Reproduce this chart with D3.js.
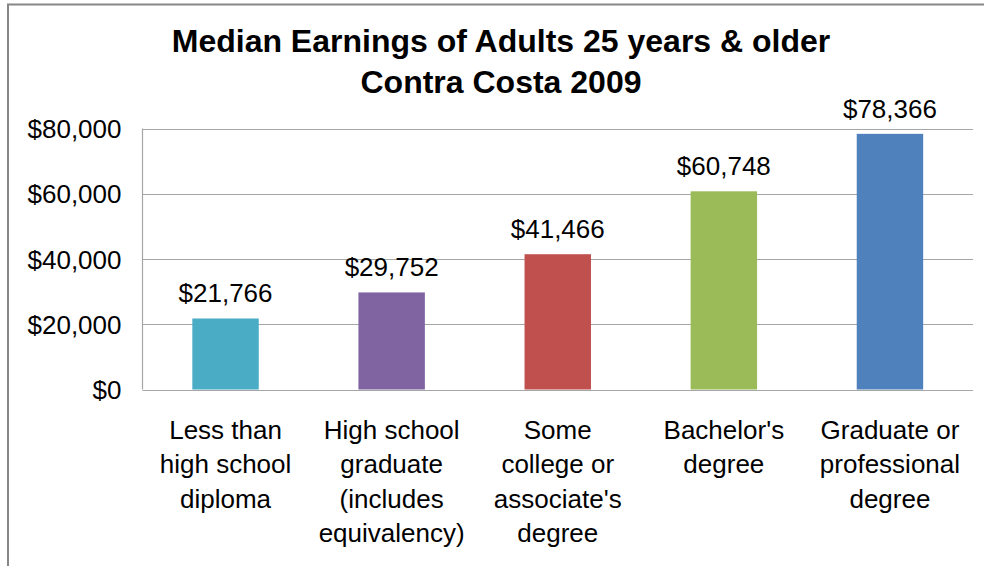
<!DOCTYPE html>
<html>
<head>
<meta charset="utf-8">
<script src="https://cdn.jsdelivr.net/npm/d3@7/dist/d3.min.js"></script>
<style>
  html, body { margin: 0; padding: 0; background: #fff; }
  svg { display: block; }
  text { font-family: "Liberation Sans", Arial, sans-serif; fill: #000; }
</style>
</head>
<body>
<svg id="chart" width="984" height="566"></svg>
<script>
// Median earnings by educational attainment, Contra Costa County, 2009
const titleLines = ["Median Earnings of Adults 25 years & older", "Contra Costa 2009"];
const categories = [
  ["Less than", "high school", "diploma"],
  ["High school", "graduate", "(includes", "equivalency)"],
  ["Some", "college or", "associate's", "degree"],
  ["Bachelor's", "degree"],
  ["Graduate or", "professional", "degree"]
];
const earnings = [21766, 29752, 41466, 60748, 78366];
const barColors = ["#4BACC6", "#8064A2", "#C0504D", "#9BBB59", "#4F81BD"];
const yTicks = [0, 20000, 40000, 60000, 80000];

const svg = d3.select("#chart");
const W = 984, H = 566;
const plot = { left: 142.5, right: 973, top: 128.5, bottom: 389.5 };
const labelSize = 26;

// Outer frame (top and left edges visible)
svg.append("rect")
  .attr("x", 8).attr("y", 4.5)
  .attr("width", W).attr("height", H)
  .attr("fill", "none")
  .attr("stroke", "#868686")
  .attr("stroke-width", 2);

const x = d3.scaleBand()
  .domain(d3.range(categories.length))
  .range([plot.left, plot.right])
  .paddingInner(0.6)
  .paddingOuter(0.3);

const y = d3.scaleLinear()
  .domain([0, 80000])
  .range([plot.bottom, plot.top]);

const money = v => "$" + d3.format(",")(v);

// Gridlines
svg.append("g")
  .selectAll("line")
  .data(yTicks)
  .join("line")
  .attr("x1", plot.left).attr("x2", plot.right)
  .attr("y1", d => Math.round(y(d)) + 0.5).attr("y2", d => Math.round(y(d)) + 0.5)
  .attr("stroke", "#a6a6a6")
  .attr("stroke-width", 1.2);

// Vertical axis line
svg.append("line")
  .attr("x1", plot.left).attr("x2", plot.left)
  .attr("y1", plot.top).attr("y2", plot.bottom)
  .attr("stroke", "#a6a6a6")
  .attr("stroke-width", 1.2);

// Y axis labels
const yAxis = d3.axisLeft(y).tickValues(yTicks).tickFormat(money).tickSize(0).tickPadding(21);
const yg = svg.append("g").attr("transform", `translate(${plot.left},0)`).call(yAxis);
yg.select(".domain").remove();
yg.selectAll("text")
  .attr("font-size", labelSize)
  .attr("font-family", "Liberation Sans, Arial, sans-serif")
  .attr("fill", "#000")
  .attr("dy", "0.35em");

// Bars
svg.append("g")
  .selectAll("rect")
  .data(earnings)
  .join("rect")
  .attr("x", (d, i) => x(i))
  .attr("width", x.bandwidth())
  .attr("y", d => y(d))
  .attr("height", d => y(0) - y(d))
  .attr("fill", (d, i) => barColors[i]);

// Value labels above bars
svg.append("g")
  .selectAll("text")
  .data(earnings)
  .join("text")
  .attr("x", (d, i) => x(i) + x.bandwidth() / 2)
  .attr("y", d => y(d) - 16)
  .attr("text-anchor", "middle")
  .attr("font-size", labelSize)
  .text(d => money(d));

// Category labels (wrapped)
const catG = svg.append("g")
  .selectAll("text")
  .data(categories)
  .join("text")
  .attr("text-anchor", "middle")
  .attr("font-size", labelSize)
  .attr("x", (d, i) => x(i) + x.bandwidth() / 2)
  .attr("y", 438.5);
catG.selectAll("tspan")
  .data((d, i) => d.map(line => ({ line, i })))
  .join("tspan")
  .attr("x", d => x(d.i) + x.bandwidth() / 2)
  .attr("dy", (d, j) => j === 0 ? 0 : 34.5)
  .text(d => d.line);

// Title
svg.append("g")
  .selectAll("text")
  .data(titleLines)
  .join("text")
  .attr("x", 501)
  .attr("y", (d, i) => 52 + i * 41)
  .attr("text-anchor", "middle")
  .attr("font-size", 32)
  .attr("font-weight", "bold")
  .text(d => d);
</script>
</body>
</html>
